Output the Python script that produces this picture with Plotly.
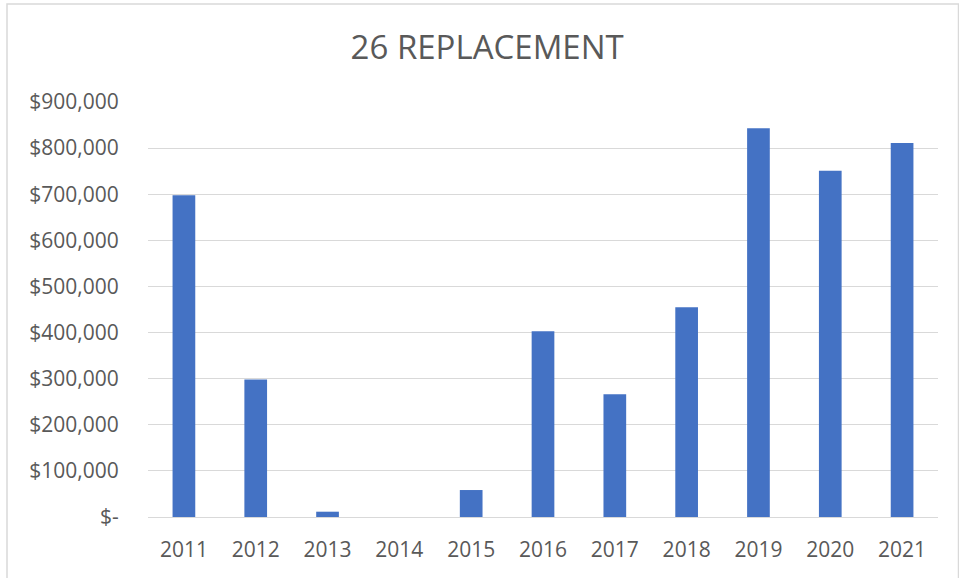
import plotly.graph_objects as go

years = ["2011", "2012", "2013", "2014", "2015", "2016", "2017", "2018", "2019", "2020", "2021"]
values = [698000, 298000, 11500, 0, 58500, 403000, 266000, 455000, 843000, 751000, 811000]
tick_vals = [0, 100000, 200000, 300000, 400000, 500000, 600000, 700000, 800000, 900000]
tick_text = ["$-", "$100,000", "$200,000", "$300,000", "$400,000", "$500,000",
             "$600,000", "$700,000", "$800,000", "$900,000"]
title_text = "26 REPLACEMENT"

W, H = 959, 578
L, R, T, B = 148, 21, 102, 61
pw, ph = W - L - R, H - T - B

fig = go.Figure(go.Bar(x=years, y=values, marker=dict(color="#4472C4", line=dict(width=0))))

font_fam = "Open Sans, DejaVu Sans, sans-serif"
grey = "#595959"

fig.update_layout(
    width=W, height=H,
    margin=dict(l=L, r=R, t=T, b=B, pad=0),
    paper_bgcolor="white", plot_bgcolor="white",
    bargap=0.684,
    showlegend=False,
    title=dict(text=title_text, x=0.508, xanchor="center", y=1 - 47 / H, yanchor="middle",
               yref="container", font=dict(family=font_fam, size=33, color=grey)),
    font=dict(family=font_fam, size=21, color=grey),
    xaxis=dict(type="category", showgrid=False, showline=True, linecolor="#D9D9D9", linewidth=1,
               ticks="outside", ticklen=14, tickcolor="rgba(0,0,0,0)",
               tickfont=dict(family=font_fam, size=21, color=grey), zeroline=False),
    yaxis=dict(range=[0, 900000], tickvals=tick_vals, ticktext=tick_text,
               showgrid=True, gridcolor="#D9D9D9", gridwidth=1, zeroline=False, showline=False,
               ticks="outside", ticklen=24, tickcolor="rgba(0,0,0,0)",
               tickfont=dict(family=font_fam, size=21, color=grey)),
    shapes=[
        dict(type="rect", xref="paper", yref="paper",
             x0=(7 - L) / pw, x1=(958.5 - L) / pw,
             y0=(T + ph - 600) / ph, y1=(T + ph - 4) / ph,
             line=dict(color="#D9D9D9", width=1.5), fillcolor="rgba(0,0,0,0)", layer="below"),
    ],
)

fig.write_html("out.html", config={"displayModeBar": False},
               post_script="document.body.style.margin='0';document.body.style.overflow='hidden';")
